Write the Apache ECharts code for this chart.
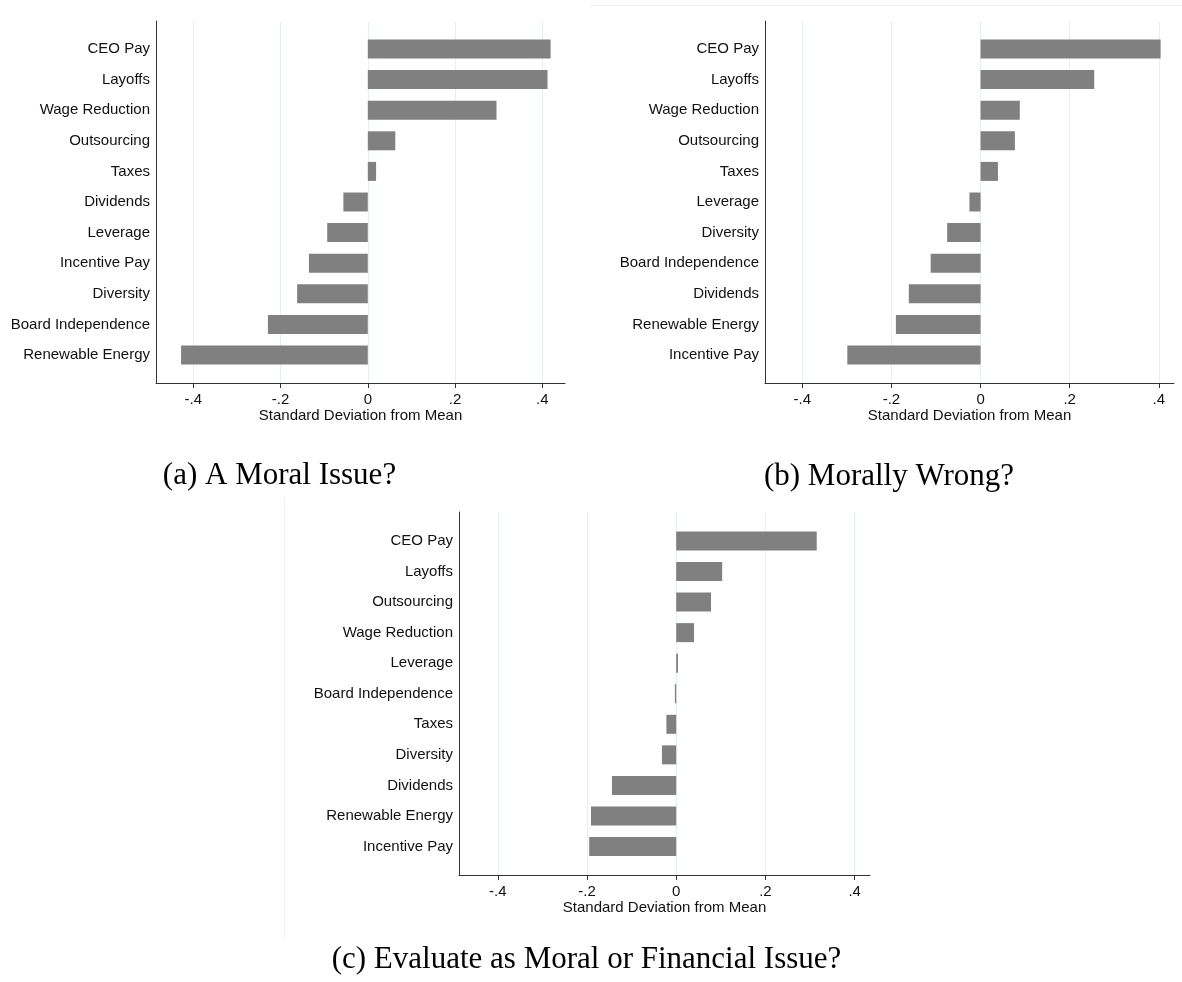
<!DOCTYPE html>
<html>
<head>
<meta charset="utf-8">
<title>Standard Deviation from Mean</title>
<script src="https://cdn.jsdelivr.net/npm/echarts@6/dist/echarts.min.js"></script>
<style>
  html, body { margin: 0; padding: 0; background: #fff; }
  #chart { width: 1182px; height: 982px; }
</style>
</head>
<body>
<div id="chart"></div>
<script>
// Panel (a) A Moral Issue?
var catsA = ['CEO Pay', 'Layoffs', 'Wage Reduction', 'Outsourcing', 'Taxes', 'Dividends',
	'Leverage', 'Incentive Pay', 'Diversity', 'Board Independence', 'Renewable Energy'];
var valsA = [0.419, 0.412, 0.295, 0.063, 0.019, -0.056, -0.093, -0.135, -0.162, -0.229, -0.428];

// Panel (b) Morally Wrong?
var catsB = ['CEO Pay', 'Layoffs', 'Wage Reduction', 'Outsourcing', 'Taxes', 'Leverage',
	'Diversity', 'Board Independence', 'Dividends', 'Renewable Energy', 'Incentive Pay'];
var valsB = [0.404, 0.255, 0.088, 0.077, 0.039, -0.025, -0.075, -0.112, -0.161, -0.190, -0.299];

// Panel (c) Evaluate as Moral or Financial Issue?
var catsC = ['CEO Pay', 'Layoffs', 'Outsourcing', 'Wage Reduction', 'Leverage', 'Board Independence',
	'Taxes', 'Diversity', 'Dividends', 'Renewable Energy', 'Incentive Pay'];
var valsC = [0.315, 0.103, 0.078, 0.040, 0.004, -0.003, -0.022, -0.032, -0.144, -0.191, -0.195];

var tickValues = [-0.4, -0.2, 0, 0.2, 0.4];
var axisTitle = 'Standard Deviation from Mean';
var captions = ['(a) A Moral Issue?', '(b) Morally Wrong?', '(c) Evaluate as Moral or Financial Issue?'];

var sans = "'Liberation Sans', Arial, Helvetica, sans-serif";
var serif = "'Liberation Serif', 'Times New Roman', serif";
var axisColor = '#333';
var textColor = '#111';

// Stata style tick labels: -.4, -.2, 0, .2, .4
function stataNum(v) {
	if (Math.abs(v) < 1e-9) return '0';
	var s = Math.abs(v).toFixed(1).replace(/^0/, '');
	return (v < 0 ? '-' : '') + s;
}

var option = {
	backgroundColor: '#fff',
	animation: false,
	grid: [],
	xAxis: [],
	yAxis: [],
	series: [],
	graphic: []
};

// outer box = axes frame, inner box = where the bar bands sit
function addPanel(cats, vals, box, inner, xmin, xmax) {
	var g = option.grid.length;

	option.grid.push({ left: box.left, top: box.top, width: box.width, height: box.height });
	option.grid.push({ left: box.left, top: inner.top, width: box.width, height: inner.height });

	// frame axis with ticks, labels and grid lines
	option.xAxis.push({
		type: 'value', gridIndex: g, min: xmin, max: xmax,
		name: axisTitle, nameLocation: 'middle', nameGap: 24,
		nameTextStyle: { fontFamily: sans, fontSize: 15, color: textColor },
		axisLine: { show: true, onZero: false, lineStyle: { color: axisColor, width: 1 } },
		axisTick: { show: true, length: 5, lineStyle: { color: axisColor, width: 1 }, customValues: tickValues },
		axisLabel: { margin: 9, fontFamily: sans, fontSize: 15, color: textColor,
			customValues: tickValues, formatter: stataNum },
		splitLine: { show: true, lineStyle: { color: '#e6eef0', width: 1 } }
	});
	option.yAxis.push({
		type: 'value', gridIndex: g, min: 0, max: 1,
		axisLine: { show: true, onZero: false, lineStyle: { color: axisColor, width: 1 } },
		axisTick: { show: false }, axisLabel: { show: false }, splitLine: { show: false }
	});

	// bar axes
	option.xAxis.push({ type: 'value', gridIndex: g + 1, min: xmin, max: xmax, show: false });
	option.yAxis.push({
		type: 'category', gridIndex: g + 1, data: cats, inverse: true,
		axisLine: { show: false }, axisTick: { show: false },
		axisLabel: { margin: 6, fontFamily: sans, fontSize: 15, color: textColor }
	});

	option.series.push({
		type: 'bar', xAxisIndex: g + 1, yAxisIndex: g + 1,
		data: vals, barWidth: 19,
		itemStyle: { color: '#808080' }
	});
}

addPanel(catsA, valsA, { left: 156, top: 21, width: 409, height: 362 },
	{ top: 33.7, height: 336.6 }, -0.4855, 0.452);
addPanel(catsB, valsB, { left: 765, top: 21, width: 409, height: 362 },
	{ top: 33.7, height: 336.6 }, -0.4837, 0.434);
addPanel(catsC, valsC, { left: 459, top: 512, width: 411, height: 363 },
	{ top: 525.7, height: 336.1 }, -0.4869, 0.4344);

// subfigure captions
var capPos = [[279.5, 476], [889, 477], [586.5, 960]];
captions.forEach(function (c, i) {
	option.graphic.push({
		type: 'text', x: capPos[i][0], y: capPos[i][1],
		style: { text: c, fontFamily: serif, fontSize: 31, fill: '#000',
			textAlign: 'center', textVerticalAlign: 'middle' }
	});
});

// faint image borders from the source figure
option.graphic.push({ type: 'line', shape: { x1: 590, y1: 5.5, x2: 1182, y2: 5.5 },
	style: { stroke: '#eeeeee', lineWidth: 1 } });
option.graphic.push({ type: 'line', shape: { x1: 284.5, y1: 498, x2: 284.5, y2: 938 },
	style: { stroke: '#f0f0f0', lineWidth: 1 } });

var chart = echarts.init(document.getElementById('chart'));
chart.setOption(option);
</script>
</body>
</html>
